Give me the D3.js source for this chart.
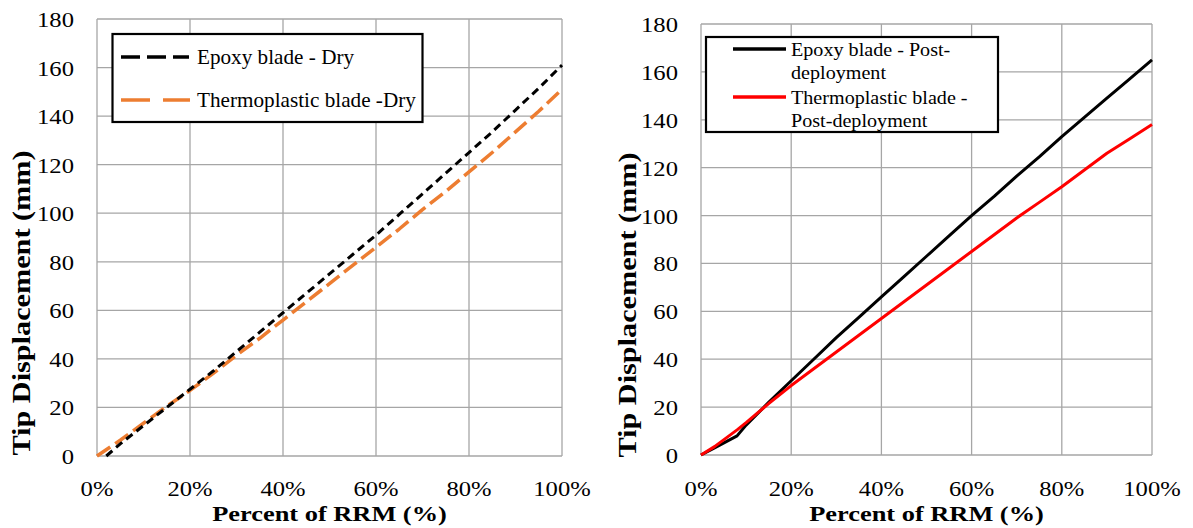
<!DOCTYPE html>
<html><head><meta charset="utf-8">
<script src="https://cdn.jsdelivr.net/npm/d3@7"></script>
<style>body{margin:0;background:#fff}svg{display:block}text{font-family:"Liberation Serif","Times New Roman",serif;fill:#000}</style>
</head><body>
<svg id="c" width="1193" height="528"></svg>
<script>
// ---- data ----
const xTicks = [0, 0.2, 0.4, 0.6, 0.8, 1.0];
const yTicks = [0, 20, 40, 60, 80, 100, 120, 140, 160, 180];
const xTitle = "Percent of RRM (%)";
const yTitle = "Tip Displacement (mm)";

const dryX = [0.02, 0.05, 0.10, 0.15, 0.20, 0.25, 0.30, 0.35, 0.40, 0.45, 0.50, 0.55, 0.60, 0.65, 0.70, 0.75, 0.80, 0.85, 0.90, 0.95, 1.00];
const epoxyDry = [0, 5, 12.5, 20, 27.5, 35, 43, 51, 59, 67, 75, 83, 91, 99.5, 108, 116.5, 125, 133.5, 142.5, 151.5, 161];
const thermoX = [0.0, 0.05, 0.10, 0.15, 0.20, 0.25, 0.30, 0.35, 0.40, 0.45, 0.50, 0.55, 0.60, 0.65, 0.70, 0.75, 0.80, 0.85, 0.90, 0.95, 1.00];
const thermoDry = [0, 6.5, 13.5, 20.5, 27, 34, 41.5, 48.5, 56, 63.5, 71, 78.5, 86, 93.5, 101.5, 109, 117, 125, 133.5, 142, 151];

const postX = [0.0, 0.03, 0.08, 0.10, 0.15, 0.20, 0.25, 0.30, 0.35, 0.40, 0.45, 0.50, 0.55, 0.60, 0.65, 0.70, 0.75, 0.80, 0.85, 0.90, 0.95, 1.00];
const epoxyPost = [0, 3, 8, 12.5, 22, 31, 40, 49, 57.5, 66, 74.5, 83, 91.5, 100, 108, 116.5, 124.5, 133, 141, 149, 157, 165];
const thermoPost = [0, 3.5, 10.5, 13.5, 21.5, 29, 36, 43, 50, 57, 64, 71, 78, 85, 92, 99, 105.5, 112, 119, 126, 132, 138];

const legendLeft = ["Epoxy blade - Dry", "Thermoplastic blade -Dry"];
const legendRight = [["Epoxy blade - Post-", "deployment"], ["Thermoplastic blade -", "Post-deployment"]];

// ---- drawing ----
const svg = d3.select("#c");
const SX = 1.12; // horizontal text stretch

function stretchedText(g, x, y, str, opts) {
  const t = g.append("text")
    .attr("transform", `translate(${x},${y}) scale(${opts.sx || SX},1)`)
    .attr("font-size", opts.size)
    .attr("text-anchor", opts.anchor || "start")
    .attr("font-weight", opts.bold ? "bold" : "normal")
    .text(str);
  return t;
}

function panel(cfg) {
  const g = svg.append("g");
  const x = d3.scaleLinear().domain([0, 1]).range([cfg.x0, cfg.x1]);
  const y = d3.scaleLinear().domain([0, 180]).range([cfg.y0, cfg.y1]);
  // grid
  g.selectAll(".gx").data(xTicks).join("line")
    .attr("x1", d => x(d)).attr("x2", d => x(d)).attr("y1", y(0)).attr("y2", y(180))
    .attr("stroke", "#a6a6a6").attr("stroke-width", 1.3);
  g.selectAll(".gy").data(yTicks).join("line")
    .attr("y1", d => y(d)).attr("y2", d => y(d)).attr("x1", x(0)).attr("x2", x(1))
    .attr("stroke", "#a6a6a6").attr("stroke-width", 1.3);
  // ticks
  yTicks.forEach(d => stretchedText(g, cfg.x0 - 23, y(d) + 8, String(d), {size: 22, anchor: "end"}));
  xTicks.forEach(d => stretchedText(g, x(d), 496, d3.format(".0%")(d), {size: 22, anchor: "middle"}));
  // titles
  stretchedText(g, (cfg.x0 + cfg.x1) / 2, 521, xTitle, {size: 22, anchor: "middle", bold: true, sx: 1.2});
  g.append("text")
    .attr("transform", `translate(${cfg.ytx},${cfg.yty}) rotate(-90)`)
    .attr("font-size", 25).attr("font-weight", "bold").attr("text-anchor", "middle")
    .attr("textLength", 305).attr("lengthAdjust", "spacingAndGlyphs").text(yTitle);
  // series
  const line = d3.line().x(d => x(d[0])).y(d => y(d[1]));
  cfg.series.forEach(s => {
    g.append("path").datum(d3.zip(s.x, s.y)).attr("d", line)
      .attr("fill", "none").attr("stroke", s.color).attr("stroke-width", s.w)
      .attr("stroke-dasharray", s.dash || null).attr("stroke-linejoin", "round");
  });
  return {g, x, y};
}

const L = panel({x0: 97, x1: 562, y0: 456, y1: 19, ytx: 30, yty: 303, series: [
  {x: thermoX, y: thermoDry, color: "#ED7D31", w: 3.5, dash: "16,6"},
  {x: dryX, y: epoxyDry, color: "#000", w: 3, dash: "8,5"}
]});
const R = panel({x0: 701, x1: 1152, y0: 455, y1: 24, ytx: 636, yty: 305, series: [
  {x: postX, y: epoxyPost, color: "#000", w: 3},
  {x: postX, y: thermoPost, color: "#FF0000", w: 3}
]});

// legends
const lg = svg.append("g");
lg.append("rect").attr("x", 112.5).attr("y", 34).attr("width", 310).attr("height", 88)
  .attr("fill", "#fff").attr("stroke", "#000").attr("stroke-width", 2.2);
lg.append("line").attr("x1", 121).attr("x2", 189).attr("y1", 57).attr("y2", 57)
  .attr("stroke", "#000").attr("stroke-width", 3.5).attr("stroke-dasharray", "19,7");
lg.append("line").attr("x1", 121).attr("x2", 190).attr("y1", 100).attr("y2", 100)
  .attr("stroke", "#ED7D31").attr("stroke-width", 3.5).attr("stroke-dasharray", "29,13");
stretchedText(lg, 197, 64, legendLeft[0], {size: 20, sx: 1.06});
stretchedText(lg, 197, 107, legendLeft[1], {size: 20, sx: 1.06});

const rg = svg.append("g");
rg.append("rect").attr("x", 706).attr("y", 37).attr("width", 292).attr("height", 95)
  .attr("fill", "#fff").attr("stroke", "#000").attr("stroke-width", 2.2);
rg.append("line").attr("x1", 733).attr("x2", 786).attr("y1", 49).attr("y2", 49)
  .attr("stroke", "#000").attr("stroke-width", 3.5);
rg.append("line").attr("x1", 733).attr("x2", 786).attr("y1", 97).attr("y2", 97)
  .attr("stroke", "#FF0000").attr("stroke-width", 3.5);
stretchedText(rg, 791, 56, legendRight[0][0], {size: 19, sx: 1.06});
stretchedText(rg, 791, 79, legendRight[0][1], {size: 19, sx: 1.06});
stretchedText(rg, 791, 104, legendRight[1][0], {size: 19, sx: 1.06});
stretchedText(rg, 791, 127, legendRight[1][1], {size: 19, sx: 1.06});
</script>
</body></html>
